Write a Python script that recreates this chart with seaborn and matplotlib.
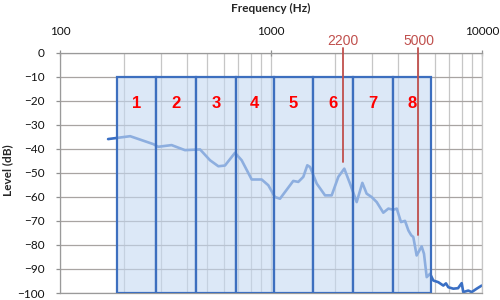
import matplotlib
matplotlib.use("Agg")
import matplotlib.pyplot as plt
from matplotlib.patches import Rectangle
from matplotlib.ticker import LogLocator, NullFormatter
import seaborn as sns
import pandas as pd
import numpy as np

# ---- data ----
freq = [169, 215, 277, 292, 338, 391, 461, 514, 563, 605, 675, 726, 810, 903, 971,
        1044, 1103, 1275, 1347, 1423, 1486, 1531, 1647, 1803, 1939, 2085, 2225, 2368,
        2547, 2710, 2840, 3000, 3170, 3406, 3600, 3800, 3945, 4130, 4316, 4480, 4620,
        4725, 4901, 5176, 5310, 5469, 5674, 5877, 6207, 6555, 6750, 6923, 7311, 7700,
        8011, 8154, 8610, 8935, 9436, 9970]
level = [-36.0, -34.8, -38.1, -39.2, -38.5, -40.6, -40.3, -44.8, -47.3, -47.0, -41.7,
         -44.8, -52.8, -52.8, -55.2, -60.1, -60.8, -53.4, -53.8, -51.7, -46.9, -47.6,
         -54.5, -59.4, -59.4, -51.7, -48.3, -54.5, -62.2, -54.2, -58.7, -60.1, -62.2,
         -66.6, -64.9, -65.4, -64.9, -70.5, -70.0, -74.0, -76.0, -76.7, -84.4, -80.6,
         -83.7, -93.4, -92.0, -94.8, -95.5, -96.9, -96.0, -97.6, -98.2, -98.0, -95.9,
         -99.6, -99.0, -99.6, -98.2, -96.9]

band_edges = [186, 286, 441, 680, 1033, 1587, 2439, 3774, 5733]
band_labels = ["1", "2", "3", "4", "5", "6", "7", "8"]
band_top = -10
band_bottom = -100

marker_freqs = [2200, 5000]
marker_labels = ["2200", "5000"]
marker_ends = [-45.5, -76.0]

x_ticks = [100, 1000, 10000]
x_tick_labels = ["100", "1000", "10000"]
y_ticks = list(range(0, -101, -10))

# ---- style ----
sns.set_style("white")
plt.rcParams['font.family'] = ['Lato', 'DejaVu Sans']

fig = plt.figure(figsize=(5, 3), dpi=100)
ax = fig.add_axes([0.12, 0.0233, 0.844, 0.8017])
ax.set_xscale('log')
ax.set_xlim(100, 10000)
ax.set_ylim(-100, 0)

df = pd.DataFrame({"freq": freq, "level": level})
sns.lineplot(data=df, x="freq", y="level", ax=ax, color="#3a6fc4", lw=1.9, zorder=2)

# grid
ax.set_axisbelow(True)
ax.xaxis.set_minor_locator(LogLocator(base=10, subs=np.arange(2, 10)))
ax.xaxis.set_minor_formatter(NullFormatter())
ax.grid(True, which='major', axis='y', color='#a8a4a2', lw=0.9)
ax.grid(True, which='both', axis='x', color='#c6c6c6', lw=0.9)

# bands
face = (197/255, 217/255, 242/255, 0.6)
for i, lab in enumerate(band_labels):
    x0, x1 = band_edges[i], band_edges[i + 1]
    ax.add_patch(Rectangle((x0, band_bottom), x1 - x0, band_top - band_bottom,
                           facecolor=face, edgecolor="#3d6fbf", lw=1.6, zorder=3))
    ax.text(np.sqrt(x0 * x1), -21, lab, color="#ff0000", fontsize=12,
            fontweight='bold', ha='center', va='center', zorder=5,
            family=['Liberation Sans', 'DejaVu Sans'])

# markers
for f, lab, yend in zip(marker_freqs, marker_labels, marker_ends):
    ax.plot([f, f], [2.0, yend], color="#c0504d", lw=1.3, clip_on=False, zorder=6)
    ax.text(f, 4.6, lab, color="#c0504d", fontsize=10, ha='center', va='center',
            clip_on=False, family=['Liberation Sans', 'DejaVu Sans'])

# axes ticks
ax.xaxis.tick_top()
ax.set_xticks(x_ticks, labels=x_tick_labels)
ax.tick_params(axis='x', which='major', top=True, bottom=False, direction='inout',
               length=5, width=0.9, color='#909090', labelsize=8.5, pad=9,
               labelcolor='#111111')
ax.tick_params(axis='x', which='minor', top=False, bottom=False, length=0)
ax.set_yticks(y_ticks)
ax.tick_params(axis='y', left=True, direction='out', length=3, width=0.9,
               color='#909090', labelsize=8.5, pad=8, labelcolor='#111111')

ax.xaxis.set_label_position('top')
ax.set_xlabel("Frequency (Hz)", fontsize=8.5, fontweight='bold', labelpad=10)
ax.set_ylabel("Level (dB)", fontsize=8.5, fontweight='bold')
ax.yaxis.set_label_coords(-0.111, 0.51)

for s in ['left', 'top', 'bottom']:
    ax.spines[s].set_color('#9a9a9a')
    ax.spines[s].set_linewidth(0.9)
ax.spines['right'].set_color('#c6c6c6')
ax.spines['right'].set_linewidth(0.9)

fig.savefig("out.png", dpi=100)
